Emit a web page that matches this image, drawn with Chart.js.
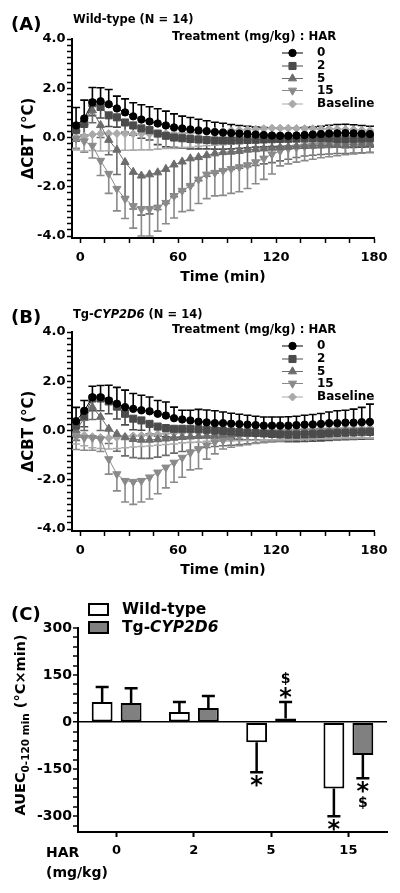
<!DOCTYPE html>
<html>
<head>
<meta charset="utf-8">
<title>CBT chart</title>
<script src="https://cdn.jsdelivr.net/npm/chart.js@4.4.1/dist/chart.umd.min.js"></script>
<style>
  html, body { margin:0; padding:0; background:#fff; }
  body { width:400px; height:893px; position:relative; overflow:hidden;
         font-family:"DejaVu Sans", sans-serif; font-weight:bold; color:#000; }
  canvas { position:absolute; left:0; }
  .t { position:absolute; white-space:nowrap; line-height:1; transform:translateY(-50%); }
</style>
</head>
<body>
<canvas id="chartA" width="400" height="300" style="top:0px;width:400px;height:300px"></canvas>
<canvas id="chartB" width="400" height="300" style="top:293px;width:400px;height:300px"></canvas>
<canvas id="chartC" width="400" height="293" style="top:600px;width:400px;height:293px"></canvas>

<div class="t" style="left:11px;top:24px;font-size:18px">(A)</div>
<div class="t" style="left:73px;top:20px;font-size:11.5px">Wild-type (N = 14)</div>
<div class="t" style="left:11px;top:317px;font-size:18px">(B)</div>
<div class="t" style="left:73px;top:315px;font-size:11.5px">Tg-<i>CYP2D6</i> (N = 14)</div>
<div class="t" style="left:11px;top:614px;font-size:18px">(C)</div>
<div class="t" style="left:46px;top:852px;font-size:14px">HAR</div>
<div class="t" style="left:46px;top:872px;font-size:14px">(mg/kg)</div>
<div style="position:absolute;left:22px;top:725px;transform:translate(-50%,-50%) rotate(-90deg);font-size:14.5px;white-space:nowrap;line-height:1;">AUEC<sub style="font-size:10.5px">0-120 min</sub> (°C×min)</div>

<script>
// ---------------- data ----------------
const timeMin = [-2.5, 2.5, 7.5, 12.5, 17.5, 22.5, 27.5, 32.5, 37.5, 42.5, 47.5, 52.5, 57.5, 62.5, 67.5, 72.5, 77.5, 82.5, 87.5, 92.5, 97.5, 102.5, 107.5, 112.5, 117.5, 122.5, 127.5, 132.5, 137.5, 142.5, 147.5, 152.5, 157.5, 162.5, 167.5, 172.5, 177.5];
const seriesLabels = ['0', '2', '5', '15', 'Baseline'];

// Panel A: wild-type (mean, SEM)
const wt0 = [0.49, 0.77, 1.43, 1.47, 1.35, 1.18, 1.02, 0.86, 0.73, 0.65, 0.57, 0.49, 0.41, 0.37, 0.33, 0.29, 0.26, 0.22, 0.20, 0.18, 0.16, 0.14, 0.12, 0.10, 0.08, 0.07, 0.07, 0.08, 0.10, 0.12, 0.14, 0.16, 0.17, 0.18, 0.17, 0.15, 0.14];
const wt0Err = [0.73, 0.75, 0.60, 0.55, 0.60, 0.50, 0.55, 0.55, 0.60, 0.60, 0.60, 0.58, 0.55, 0.50, 0.48, 0.45, 0.42, 0.40, 0.38, 0.35, 0.33, 0.32, 0.30, 0.30, 0.30, 0.30, 0.30, 0.30, 0.30, 0.30, 0.32, 0.34, 0.36, 0.36, 0.35, 0.34, 0.32];
const wt2 = [0.30, 0.55, 1.39, 1.24, 0.90, 0.82, 0.61, 0.49, 0.37, 0.30, 0.16, 0.07, 0.00, -0.03, -0.06, -0.08, -0.10, -0.12, -0.12, -0.12, -0.11, -0.10, -0.09, -0.08, -0.07, -0.06, -0.05, -0.04, -0.03, -0.02, -0.02, -0.03, -0.05, -0.06, -0.05, -0.04, -0.03];
const wt2Err = [0.45, 0.50, 0.50, 0.45, 0.45, 0.40, 0.40, 0.40, 0.40, 0.40, 0.45, 0.45, 0.40, 0.40, 0.40, 0.38, 0.36, 0.35, 0.35, 0.34, 0.33, 0.32, 0.30, 0.30, 0.30, 0.30, 0.30, 0.30, 0.30, 0.30, 0.30, 0.32, 0.34, 0.35, 0.35, 0.35, 0.35];
const wt5 = [0.35, 0.60, 1.10, 0.50, -0.10, -0.50, -1.00, -1.40, -1.55, -1.50, -1.42, -1.28, -1.10, -0.98, -0.85, -0.80, -0.72, -0.65, -0.60, -0.58, -0.55, -0.50, -0.48, -0.45, -0.42, -0.40, -0.38, -0.36, -0.35, -0.34, -0.33, -0.32, -0.30, -0.30, -0.28, -0.27, -0.25];
const wt5Err = [0.50, 0.50, 0.50, 0.50, 0.60, 1.00, 1.40, 1.50, 1.60, 1.60, 1.50, 1.40, 1.30, 1.20, 1.10, 0.95, 0.85, 0.80, 0.75, 0.72, 0.70, 0.68, 0.65, 0.62, 0.60, 0.55, 0.50, 0.45, 0.40, 0.38, 0.36, 0.35, 0.35, 0.35, 0.35, 0.35, 0.35];
const wt15 = [-0.04, -0.15, -0.33, -0.94, -1.47, -2.08, -2.49, -2.78, -2.90, -2.90, -2.84, -2.65, -2.37, -2.16, -1.96, -1.70, -1.50, -1.43, -1.35, -1.27, -1.20, -1.12, -1.00, -0.85, -0.68, -0.55, -0.45, -0.40, -0.36, -0.33, -0.30, -0.28, -0.26, -0.24, -0.22, -0.20, -0.20];
const wt15Err = [0.40, 0.45, 0.50, 0.60, 0.80, 0.90, 0.80, 0.90, 1.10, 1.10, 0.96, 0.85, 0.90, 0.85, 1.00, 0.98, 0.98, 0.94, 1.00, 1.00, 1.00, 0.95, 0.88, 0.85, 0.80, 0.60, 0.62, 0.60, 0.58, 0.55, 0.52, 0.50, 0.48, 0.46, 0.45, 0.44, 0.42];
const wtBase = [0.00, 0.05, 0.12, 0.15, 0.16, 0.16, 0.16, 0.15, 0.15, 0.15, 0.15, 0.16, 0.16, 0.17, 0.18, 0.20, 0.22, 0.24, 0.26, 0.28, 0.30, 0.32, 0.34, 0.36, 0.38, 0.38, 0.38, 0.37, 0.36, 0.36, 0.35, 0.35, 0.34, 0.33, 0.32, 0.30, 0.28];
const wtBaseErr = [0.50, 0.60, 0.65, 0.70, 0.70, 0.70, 0.68, 0.66, 0.65, 0.65, 0.62, 0.60, 0.60, 0.58, 0.58, 0.56, 0.55, 0.55, 0.55, 0.55, 0.55, 0.55, 0.55, 0.55, 0.55, 0.55, 0.55, 0.55, 0.55, 0.55, 0.55, 0.55, 0.55, 0.55, 0.55, 0.55, 0.55];

// Panel B: Tg-CYP2D6 (mean, SEM)
const tg0 = [0.38, 0.80, 1.35, 1.35, 1.22, 1.09, 0.95, 0.88, 0.82, 0.78, 0.68, 0.61, 0.50, 0.45, 0.41, 0.36, 0.33, 0.30, 0.30, 0.28, 0.26, 0.24, 0.22, 0.20, 0.20, 0.20, 0.20, 0.22, 0.24, 0.25, 0.27, 0.30, 0.30, 0.32, 0.32, 0.34, 0.35];
const tg0Err = [0.56, 0.42, 0.45, 0.48, 0.62, 0.66, 0.69, 0.62, 0.61, 0.58, 0.54, 0.55, 0.45, 0.37, 0.41, 0.50, 0.50, 0.50, 0.45, 0.42, 0.40, 0.38, 0.36, 0.35, 0.35, 0.35, 0.36, 0.36, 0.38, 0.40, 0.42, 0.45, 0.50, 0.50, 0.55, 0.60, 0.72];
const tg2 = [0.20, 0.60, 1.30, 1.30, 1.18, 0.97, 0.68, 0.48, 0.41, 0.27, 0.16, 0.10, 0.07, 0.07, 0.07, 0.05, 0.03, 0.00, -0.02, -0.04, -0.06, -0.08, -0.10, -0.12, -0.14, -0.16, -0.17, -0.17, -0.16, -0.15, -0.14, -0.12, -0.10, -0.09, -0.08, -0.07, -0.06];
const tg2Err = [0.40, 0.45, 0.50, 0.50, 0.50, 0.50, 0.45, 0.45, 0.40, 0.40, 0.38, 0.36, 0.35, 0.34, 0.33, 0.32, 0.30, 0.30, 0.30, 0.30, 0.30, 0.30, 0.28, 0.28, 0.28, 0.28, 0.28, 0.28, 0.28, 0.28, 0.28, 0.28, 0.28, 0.28, 0.28, 0.28, 0.28];
const tg5 = [0.00, 0.50, 0.95, 0.55, 0.07, -0.14, -0.28, -0.35, -0.38, -0.38, -0.36, -0.33, -0.30, -0.27, -0.25, -0.23, -0.22, -0.20, -0.18, -0.17, -0.15, -0.14, -0.13, -0.12, -0.10, -0.09, -0.08, -0.06, -0.05, -0.04, -0.04, -0.03, -0.03, -0.02, -0.02, -0.01, 0.00];
const tg5Err = [0.40, 0.50, 0.50, 0.55, 0.60, 0.70, 0.75, 0.75, 0.75, 0.75, 0.72, 0.68, 0.62, 0.58, 0.55, 0.50, 0.47, 0.45, 0.44, 0.43, 0.42, 0.40, 0.38, 0.36, 0.35, 0.34, 0.33, 0.32, 0.31, 0.30, 0.30, 0.30, 0.30, 0.30, 0.30, 0.30, 0.30];
const tg15 = [-0.27, -0.30, -0.30, -0.35, -1.16, -1.77, -2.04, -2.08, -2.04, -1.90, -1.70, -1.50, -1.30, -1.10, -0.90, -0.75, -0.60, -0.47, -0.40, -0.30, -0.22, -0.18, -0.15, -0.12, -0.10, -0.08, -0.06, -0.05, -0.04, -0.03, -0.02, -0.02, -0.01, 0.00, 0.00, 0.01, 0.02];
const tg15Err = [0.50, 0.50, 0.50, 0.50, 0.61, 0.68, 0.86, 0.92, 0.86, 0.88, 0.87, 0.83, 0.80, 0.80, 0.70, 0.80, 0.56, 0.48, 0.35, 0.38, 0.40, 0.40, 0.38, 0.36, 0.35, 0.34, 0.33, 0.32, 0.32, 0.32, 0.32, 0.32, 0.32, 0.32, 0.32, 0.32, 0.32];
const tgBase = [-0.15, -0.20, -0.25, -0.28, -0.30, -0.28, -0.25, -0.22, -0.20, -0.18, -0.15, -0.12, -0.10, -0.08, -0.06, -0.05, -0.04, -0.03, -0.02, -0.02, -0.01, 0.00, 0.00, 0.01, 0.02, 0.03, 0.04, 0.05, 0.06, 0.07, 0.08, 0.08, 0.09, 0.10, 0.10, 0.10, 0.10];
const tgBaseErr = [0.40, 0.42, 0.45, 0.45, 0.45, 0.45, 0.45, 0.45, 0.45, 0.45, 0.45, 0.45, 0.45, 0.42, 0.42, 0.42, 0.40, 0.40, 0.40, 0.40, 0.40, 0.40, 0.40, 0.40, 0.40, 0.40, 0.40, 0.40, 0.40, 0.40, 0.40, 0.40, 0.40, 0.40, 0.40, 0.40, 0.40];

// Panel C: AUEC 0-120 min
const doseCategories = ['0', '2', '5', '15'];
const groupLabels = ['Wild-type', 'Tg-CYP2D6'];
const wtAuec = [64, 32, -64, -211];
const wtAuecErr = [48, 32, 96, 89];
const tgAuec = [61, 45, 12, -105];
const tgAuecErr = [47, 38, 52, 74];
const wtAuecMarks = ['', '', '*', '*'];
const tgAuecMarks = ['', '', '*$', '*$'];

// tick labels
const cbtLabelTicks = [-4, -2, 0, 2, 4];
const timeLabelTicks = [0, 60, 120, 180];
const auecLabelTicks = [-300, -150, 0, 150, 300];

// ---------------- styles ----------------
const seriesColors = ['#000000', '#4b4b4b', '#6c6c6c', '#8a8a8a', '#a9a9a9'];
const seriesPointStyles = ['circle', 'rect', 'triangle', 'triangle', 'rectRot'];
const seriesPointRot = [0, 0, 0, 180, 0];
const seriesPointRadius = [3.7, 5, 4.7, 4.7, 4];
const seriesErrDir = [1, -1, -1, -1, -1];
const FONT = '"DejaVu Sans", sans-serif';

Chart.defaults.font.family = FONT;
Chart.defaults.font.weight = 'bold';
Chart.defaults.color = '#000';

function stepTicks(min, max, step) {
  const out = [];
  for (let v = min; v <= max + 1e-9; v += step) out.push({ value: Math.round(v * 1000) / 1000 });
  return out;
}
function isLabelTick(list, v) { return list.some(t => Math.abs(t - v) < 1e-6); }

function buildLineDatasets(valueSets, errSets) {
  return valueSets.map((vals, k) => ({
    label: seriesLabels[k],
    data: timeMin.map((t, i) => ({ x: t, y: vals[i] })),
    errors: errSets[k],
    errDir: seriesErrDir[k],
    borderColor: seriesColors[k],
    backgroundColor: seriesColors[k],
    pointBackgroundColor: seriesColors[k],
    pointBorderColor: seriesColors[k],
    pointStyle: seriesPointStyles[k],
    pointRotation: seriesPointRot[k],
    pointRadius: seriesPointRadius[k],
    pointBorderWidth: 1,
    borderWidth: 1,
    tension: 0,
    fill: false
  }));
}

const errorBarPlugin = {
  id: 'errorBars',
  beforeDatasetsDraw(chart) {
    const ctx = chart.ctx, yS = chart.scales.y;
    chart.data.datasets.forEach((ds, di) => {
      if (!ds.errors) return;
      const meta = chart.getDatasetMeta(di);
      ctx.save();
      ctx.strokeStyle = ds.borderColor;
      ctx.lineWidth = 1.6;
      meta.data.forEach((pt, i) => {
        const v = ds.data[i].y, e = ds.errors[i];
        const y1 = yS.getPixelForValue(v + ds.errDir * e);
        ctx.beginPath();
        ctx.moveTo(pt.x, pt.y); ctx.lineTo(pt.x, y1);
        ctx.moveTo(pt.x - 4, y1); ctx.lineTo(pt.x + 4, y1);
        ctx.stroke();
      });
      ctx.restore();
    });
  }
};

function drawSymbol(ctx, style, rot, r, x, y, color) {
  ctx.save();
  ctx.fillStyle = color; ctx.strokeStyle = color; ctx.lineWidth = 1;
  Chart.helpers.drawPoint(ctx, { pointStyle: style, rotation: rot, radius: r, borderWidth: 1 }, x, y);
  ctx.restore();
}

const lineLegendPlugin = {
  id: 'lineLegend',
  afterDraw(chart, args, opts) {
    const ctx = chart.ctx;
    ctx.save();
    ctx.fillStyle = '#000';
    ctx.textBaseline = 'middle';
    ctx.textAlign = 'left';
    ctx.font = 'bold 11.7px ' + FONT;
    ctx.fillText(opts.title, opts.titleX, opts.titleY);
    ctx.font = 'bold 12px ' + FONT;
    chart.data.datasets.forEach((ds, i) => {
      const y = opts.rows[i];
      ctx.strokeStyle = ds.borderColor; ctx.lineWidth = 1;
      ctx.beginPath(); ctx.moveTo(opts.lineX0, y); ctx.lineTo(opts.lineX1, y); ctx.stroke();
      drawSymbol(ctx, ds.pointStyle, ds.pointRotation, ds.pointRadius, (opts.lineX0 + opts.lineX1) / 2, y, ds.borderColor);
      ctx.fillStyle = '#000';
      ctx.fillText(ds.label, opts.textX, y);
    });
    ctx.restore();
  }
};

function makeLinePanel(id, valueSets, errSets) {
  return new Chart(document.getElementById(id), {
    type: 'line',
    data: { datasets: buildLineDatasets(valueSets, errSets) },
    options: {
      responsive: false, animation: false, devicePixelRatio: 1,
      layout: { padding: { top: 39, right: 26, bottom: 0, left: 0 } },
      plugins: {
        legend: { display: false }, tooltip: { enabled: false }, title: { display: false },
        lineLegend: { title: 'Treatment (mg/kg) : HAR', titleX: 172, titleY: 37,
                      rows: [53, 66, 78.5, 90.5, 104], lineX0: 282, lineX1: 303, textX: 317 }
      },
      scales: {
        x: {
          type: 'linear', min: -5, max: 180,
          afterBuildTicks: s => { s.ticks = stepTicks(0, 180, 15); },
          afterFit: s => { s.height = 62; },
          ticks: { autoSkip: false, maxRotation: 0, padding: 7, font: { size: 13, weight: 'bold' }, color: '#000',
                   callback: v => isLabelTick(timeLabelTicks, v) ? String(v) : '' },
          grid: { drawOnChartArea: false, drawTicks: true, tickLength: 5, tickColor: '#000', tickWidth: 1.5 },
          border: { display: true, color: '#000', width: 2 },
          title: { display: true, text: 'Time (min)', color: '#000', font: { size: 14, weight: 'bold' }, padding: { top: 0, bottom: 14.6 } }
        },
        y: {
          type: 'linear', min: -4.08, max: 4,
          afterBuildTicks: s => { s.ticks = stepTicks(-4, 4, 0.25); },
          afterFit: s => { s.width = 72; },
          ticks: { autoSkip: false, padding: 1.5, font: { size: 13, weight: 'bold' }, color: '#000',
                   callback: v => isLabelTick(cbtLabelTicks, v) ? v.toFixed(1) : '' },
          grid: { drawOnChartArea: false, drawTicks: true, tickLength: 5, tickColor: '#000', tickWidth: 1.5 },
          border: { display: true, color: '#000', width: 2 },
          title: { display: true, text: 'ΔCBT (°C)', color: '#000', font: { size: 15, weight: 'bold' }, padding: { top: 20, bottom: 0 } }
        }
      }
    },
    plugins: [errorBarPlugin, lineLegendPlugin]
  });
}

makeLinePanel('chartA', [wt0, wt2, wt5, wt15, wtBase], [wt0Err, wt2Err, wt5Err, wt15Err, wtBaseErr]);
makeLinePanel('chartB', [tg0, tg2, tg5, tg15, tgBase], [tg0Err, tg2Err, tg5Err, tg15Err, tgBaseErr]);

// ---------------- panel C ----------------
function drawCenteredGlyph(ctx, ch, x, cy, font) {
  ctx.font = font;
  const m = ctx.measureText(ch);
  const asc = m.actualBoundingBoxAscent, desc = m.actualBoundingBoxDescent;
  ctx.textAlign = 'center';
  ctx.textBaseline = 'alphabetic';
  ctx.fillText(ch, x, cy + (asc - desc) / 2);
}

const barExtrasPlugin = {
  id: 'barExtras',
  afterDatasetsDraw(chart) {
    const ctx = chart.ctx, yS = chart.scales.y;
    chart.data.datasets.forEach((ds, di) => {
      const meta = chart.getDatasetMeta(di);
      meta.data.forEach((bar, i) => {
        const v = ds.data[i], e = ds.errors[i], s = v >= 0 ? 1 : -1;
        const yEnd = yS.getPixelForValue(v + s * e);
        ctx.save();
        ctx.strokeStyle = '#000'; ctx.lineWidth = 2.5;
        ctx.beginPath();
        ctx.moveTo(bar.x, bar.y); ctx.lineTo(bar.x, yEnd);
        ctx.moveTo(bar.x - 6.5, yEnd); ctx.lineTo(bar.x + 6.5, yEnd);
        ctx.stroke();
        ctx.fillStyle = '#000';
        const marks = ds.marks[i];
        for (let k = 0; k < marks.length; k++) {
          const ch = marks[k];
          const off = k === 0 ? 9 : 24;
          const font = ch === '*' ? 'bold 24px ' + FONT : 'bold 14px ' + FONT;
          drawCenteredGlyph(ctx, ch, bar.x, yEnd - s * off, font);
        }
        ctx.restore();
      });
    });
  },
  afterDraw(chart) {
    const ctx = chart.ctx;
    ctx.save();
    chart.data.datasets.forEach((ds, i) => {
      const y = 3 + i * 18;
      ctx.fillStyle = '#000';
      ctx.fillRect(88, y, 21, 13);
      ctx.fillStyle = ds.backgroundColor;
      ctx.fillRect(90, y + 2, 17, 9);
      ctx.fillStyle = '#000';
      ctx.textAlign = 'left'; ctx.textBaseline = 'middle';
      const parts = ds.label.split('-');
      if (parts.length === 2 && parts[1] === 'CYP2D6') {
        ctx.font = 'bold 15.5px ' + FONT;
        ctx.fillText('Tg-', 122, y + 7);
        const w = ctx.measureText('Tg-').width;
        ctx.font = 'italic bold 15.5px ' + FONT;
        ctx.fillText('CYP2D6', 122 + w, y + 7);
      } else {
        ctx.font = 'bold 15.5px ' + FONT;
        ctx.fillText(ds.label, 122, y + 7);
      }
    });
    ctx.restore();
  }
};

new Chart(document.getElementById('chartC'), {
  type: 'bar',
  data: {
    labels: doseCategories,
    datasets: [
      { label: groupLabels[0], data: wtAuec, errors: wtAuecErr, marks: wtAuecMarks,
        backgroundColor: '#ffffff', borderColor: '#000', borderWidth: 2, borderSkipped: false,
        categoryPercentage: 0.75, barPercentage: 0.72 },
      { label: groupLabels[1], data: tgAuec, errors: tgAuecErr, marks: tgAuecMarks,
        backgroundColor: '#808080', borderColor: '#000', borderWidth: 2, borderSkipped: false,
        categoryPercentage: 0.75, barPercentage: 0.72 }
    ]
  },
  options: {
    responsive: false, animation: false, devicePixelRatio: 1,
    layout: { padding: { top: 28, right: 13, bottom: 0, left: 0 } },
    plugins: { legend: { display: false }, tooltip: { enabled: false } },
    scales: {
      x: {
        type: 'category', offset: true,
        afterFit: s => { s.height = 61; },
        ticks: { padding: 6, font: { size: 13, weight: 'bold' }, color: '#000', maxRotation: 0 },
        grid: { offset: false, drawOnChartArea: false, drawTicks: true, tickLength: 5, tickColor: '#000', tickWidth: 2 },
        border: { display: true, color: '#000', width: 2 }
      },
      y: {
        type: 'linear', min: -350, max: 300,
        afterBuildTicks: s => { s.ticks = stepTicks(-330, 300, 30); },
        afterFit: s => { s.width = 78; },
        ticks: { autoSkip: false, padding: 1, font: { size: 14, weight: 'bold' }, color: '#000',
                 callback: v => isLabelTick(auecLabelTicks, v) ? String(v) : '' },
        grid: { drawOnChartArea: true, drawTicks: true, tickLength: 5, tickColor: '#000', tickWidth: 1.5,
                color: c => (c.tick && Math.abs(c.tick.value) < 1e-6) ? '#000' : 'rgba(0,0,0,0)',
                lineWidth: c => (c.tick && Math.abs(c.tick.value) < 1e-6) ? 1.5 : 0 },
        border: { display: true, color: '#000', width: 2 }
      }
    }
  },
  plugins: [barExtrasPlugin]
});
</script>
</body>
</html>
